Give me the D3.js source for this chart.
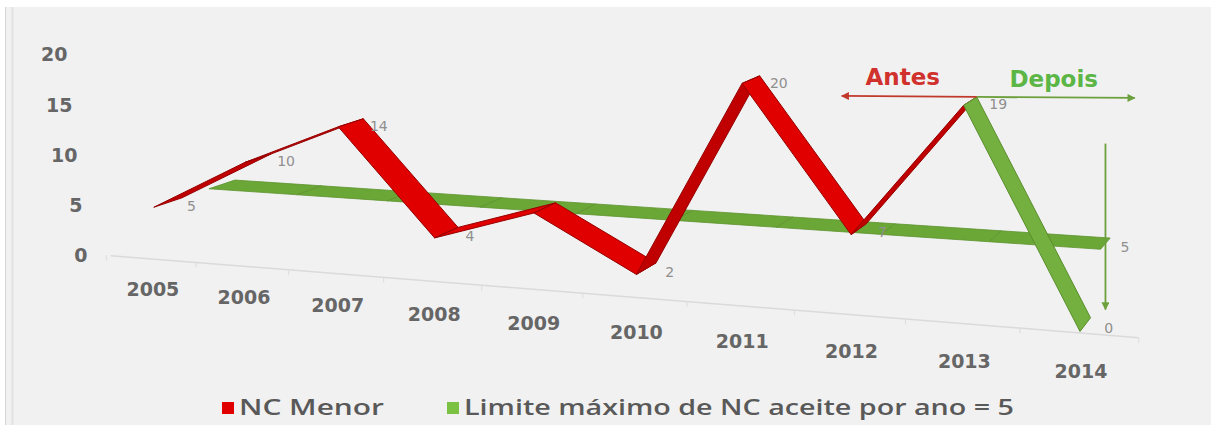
<!DOCTYPE html>
<html>
<head>
<meta charset="utf-8">
<script src="https://cdn.jsdelivr.net/npm/d3@7"></script>
<style>
  html, body { margin: 0; padding: 0; background: #ffffff; }
  svg { display: block; }
</style>
</head>
<body>
<svg id="chart" width="1211" height="425"></svg>
<script>
// ---- data -------------------------------------------------------------
const years = ["2005", "2006", "2007", "2008", "2009", "2010", "2011", "2012", "2013", "2014"];
const ncMenor = [5, 10, 14, 4, 7, 2, 20, 7, 19, 0];
const limiteMaximo = [5, 5, 5, 5, 5, 5, 5, 5, 5, 5];
const yTicks = [0, 5, 10, 15, 20];
const cutoverYear = "2013";             // "Antes" up to this year, "Depois" after it
const hiddenLabelYears = ["2009"];      // label sits behind the ribbon
const seriesNames = ["NC Menor", "Limite máximo de NC aceite por ano = 5"];

// ---- setup ------------------------------------------------------------
const W = 1211, H = 425;
const svg = d3.select("#chart");

svg.append("rect").attr("width", W).attr("height", H).attr("fill", "#ffffff");
svg.append("rect").attr("x", 5).attr("y", 7).attr("width", W - 5).attr("height", H - 7).attr("fill", "#f1f1f1");
svg.append("line").attr("x1", 5.5).attr("x2", 5.5).attr("y1", 7).attr("y2", H).attr("stroke", "#d4d4d4");
svg.append("line").attr("x1", 12.5).attr("x2", 12.5).attr("y1", 7).attr("y2", H).attr("stroke", "#e2e2e2").attr("stroke-width", 2);

// category -> position along the x axis (world units), value -> height
const cat = d3.scalePoint().domain(years).range([0, years.length - 1]);
const height = d3.scaleLinear().domain([0, 20]).range([0, 20]);

// perspective camera: homogeneous projection of (category, height, depth)
const camera = {
  x: [86.46, 0, 63.2, 168],
  y: [3.38, -10.0, -10.5, 252.5],
  w: [-0.01425, 0, 0.0413, 1]
};
function project(c, h, z) {
  const w = camera.w[0] * c + camera.w[1] * h + camera.w[2] * z + camera.w[3];
  return [
    (camera.x[0] * c + camera.x[1] * h + camera.x[2] * z + camera.x[3]) / w,
    (camera.y[0] * c + camera.y[1] * h + camera.y[2] * z + camera.y[3]) / w
  ];
}

const HALF = 0.25;         // half depth of a ribbon
const FRONT = 0, BACK = 1; // depth rows of the two series
const FLOOR_Z = -0.3;

// ---- floor edge with category ticks -----------------------------------
const floorG = svg.append("g");
const f0 = project(-0.45, 0, FLOOR_Z), f1 = project(years.length - 0.5, 0, FLOOR_Z);
floorG.append("line")
  .attr("x1", f0[0]).attr("y1", f0[1]).attr("x2", f1[0]).attr("y2", f1[1])
  .attr("stroke", "#dadada").attr("stroke-width", 1.5);
d3.range(-0.5, years.length, 1).forEach(b => {
  const p = project(b, 0, FLOOR_Z);
  floorG.append("line")
    .attr("x1", p[0]).attr("y1", p[1]).attr("x2", p[0]).attr("y2", p[1] + 5)
    .attr("stroke", "#dedede").attr("stroke-width", 1.2);
});

// ---- axis labels ------------------------------------------------------
const axisFont = "'DejaVu Sans', sans-serif";
const lean = d3.scaleLinear().domain([0, 20]).range([0, -20]);
const axisAnchor = project(-0.5, 0, FLOOR_Z);
svg.append("g").selectAll("text").data(yTicks).join("text")
  .attr("x", d => axisAnchor[0] - 19 + lean(d))
  .attr("y", d => project(-0.5, height(d), FLOOR_Z)[1])
  .attr("text-anchor", "end")
  .attr("dominant-baseline", "central")
  .attr("font-family", axisFont).attr("font-weight", "bold").attr("font-size", 19)
  .attr("fill", "#666666")
  .text(d => d);

svg.append("g").selectAll("text").data(years).join("text")
  .attr("x", d => project(cat(d), 0, FLOOR_Z)[0] + 2)
  .attr("y", d => project(cat(d), 0, FLOOR_Z)[1] + 30 + cat(d) * 0.9)
  .attr("text-anchor", "middle")
  .attr("dominant-baseline", "central")
  .attr("font-family", axisFont).attr("font-weight", "bold").attr("font-size", 19)
  .attr("fill", "#666666")
  .text(d => d);

// ---- ribbons ----------------------------------------------------------
function ribbonFaces(values, zc) {
  const faces = [];
  for (let k = 0; k < values.length - 1; k++) {
    const c0 = cat(years[k]), c1 = cat(years[k + 1]);
    const h0 = height(values[k]), h1 = height(values[k + 1]);
    const pts = [
      project(c0, h0, zc - HALF), project(c1, h1, zc - HALF),
      project(c1, h1, zc + HALF), project(c0, h0, zc + HALF)
    ];
    const ax = pts[1][0] - pts[0][0], ay = pts[1][1] - pts[0][1];
    const bx = pts[3][0] - pts[0][0], by = pts[3][1] - pts[0][1];
    faces.push({ k, pts, top: ax * by - ay * bx < 0 });
  }
  return faces;
}

const line = d3.line();
const green = { top: "#74b040", under: "#5f9a30", edge: "#5a8e2c" };
const red = { top: "#e00000", under: "#c00000", edge: "#960000" };

// back row: maximum accepted per year
svg.append("g").selectAll("path").data(ribbonFaces(limiteMaximo, BACK)).join("path")
  .attr("d", f => line(f.pts) + "Z")
  .attr("fill", f => f.top ? "#6aa737" : "#5c9630")
  .attr("stroke", "#5e932f").attr("stroke-width", 0.8).attr("stroke-linejoin", "round");

// front row: minor non-conformities
const cutIdx = years.indexOf(cutoverYear);
svg.append("g").selectAll("path").data(ribbonFaces(ncMenor, FRONT)).join("path")
  .attr("d", f => line(f.pts) + "Z")
  .attr("fill", f => {
    const pal = f.k >= cutIdx ? green : red;
    return f.top ? pal.top : pal.under;
  })
  .attr("stroke", f => (f.k >= cutIdx ? green : red).edge)
  .attr("stroke-width", 1).attr("stroke-linejoin", "round");

// ---- data labels ------------------------------------------------------
const labelFont = "'DejaVu Sans', sans-serif";
svg.append("g").selectAll("text")
  .data(years.map((y, i) => ({ y, v: ncMenor[i] })).filter(d => !hiddenLabelYears.includes(d.y)))
  .join("text")
  .attr("x", d => project(cat(d.y), height(d.v), FRONT)[0] + 19)
  .attr("y", d => project(cat(d.y), height(d.v), FRONT)[1] + 3)
  .attr("dominant-baseline", "central")
  .attr("font-family", labelFont).attr("font-size", 14)
  .attr("fill", "#8f8f8f")
  .text(d => d.v);

const lastYear = years[years.length - 1];
const limitEnd = project(cat(lastYear), height(limiteMaximo[limiteMaximo.length - 1]), BACK);
svg.append("text")
  .attr("x", limitEnd[0] + 15).attr("y", limitEnd[1] + 3)
  .attr("dominant-baseline", "central")
  .attr("font-family", labelFont).attr("font-size", 14)
  .attr("fill", "#8f8f8f")
  .text(limiteMaximo[limiteMaximo.length - 1]);

// ---- before / after annotation ---------------------------------------
const defs = svg.append("defs");
function arrowHead(id, color) {
  defs.append("marker").attr("id", id)
    .attr("viewBox", "0 0 10 10").attr("refX", 9).attr("refY", 5)
    .attr("markerWidth", 11).attr("markerHeight", 8).attr("orient", "auto-start-reverse")
    .attr("markerUnits", "userSpaceOnUse")
    .append("path").attr("d", "M0,0 L10,5 L0,10 Z").attr("fill", color);
}
arrowHead("arrRed", "#c0392b");
arrowHead("arrGreen", "#6ca03c");

const peak = project(cat(cutoverYear), height(ncMenor[cutIdx]), FRONT + HALF);
const ann = svg.append("g");
ann.append("line")
  .attr("x1", peak[0]).attr("y1", peak[1]).attr("x2", peak[0] - 135).attr("y2", peak[1] - 1)
  .attr("stroke", "#c0392b").attr("stroke-width", 1.8).attr("marker-end", "url(#arrRed)");
ann.append("line")
  .attr("x1", peak[0]).attr("y1", peak[1]).attr("x2", peak[0] + 158).attr("y2", peak[1] + 1)
  .attr("stroke", "#6ca03c").attr("stroke-width", 1.8).attr("marker-end", "url(#arrGreen)");
ann.append("text")
  .attr("x", peak[0] - 74).attr("y", peak[1] - 12)
  .attr("text-anchor", "middle")
  .attr("font-family", axisFont).attr("font-weight", "bold").attr("font-size", 23)
  .attr("fill", "#d0312d")
  .text("Antes");
ann.append("text")
  .attr("x", peak[0] + 77).attr("y", peak[1] - 10)
  .attr("text-anchor", "middle")
  .attr("font-family", axisFont).attr("font-weight", "bold").attr("font-size", 23)
  .attr("fill", "#5cb646")
  .text("Depois");

const zeroEnd = project(cat(lastYear), height(ncMenor[ncMenor.length - 1]), FRONT);
ann.append("line")
  .attr("x1", limitEnd[0]).attr("y1", limitEnd[1] - 100)
  .attr("x2", limitEnd[0]).attr("y2", zeroEnd[1] - 15)
  .attr("stroke", "#6ca03c").attr("stroke-width", 1.8).attr("marker-end", "url(#arrGreen)");

// ---- legend -----------------------------------------------------------
const legend = svg.append("g").attr("font-family", "'Open Sans', sans-serif").attr("font-weight", 600)
  .attr("font-size", 22).attr("fill", "#595959");
const legendItems = [
  { name: seriesNames[0], color: "#e00000", x: 222, width: 145 },
  { name: seriesNames[1], color: "#7cc242", x: 447, width: 550 }
];
legendItems.forEach(it => {
  legend.append("rect").attr("x", it.x).attr("y", 402).attr("width", 12).attr("height", 12).attr("fill", it.color);
  legend.append("text").attr("x", it.x + 17).attr("y", 415)
    .attr("textLength", it.width).attr("lengthAdjust", "spacingAndGlyphs")
    .text(it.name);
});
</script>
</body>
</html>
